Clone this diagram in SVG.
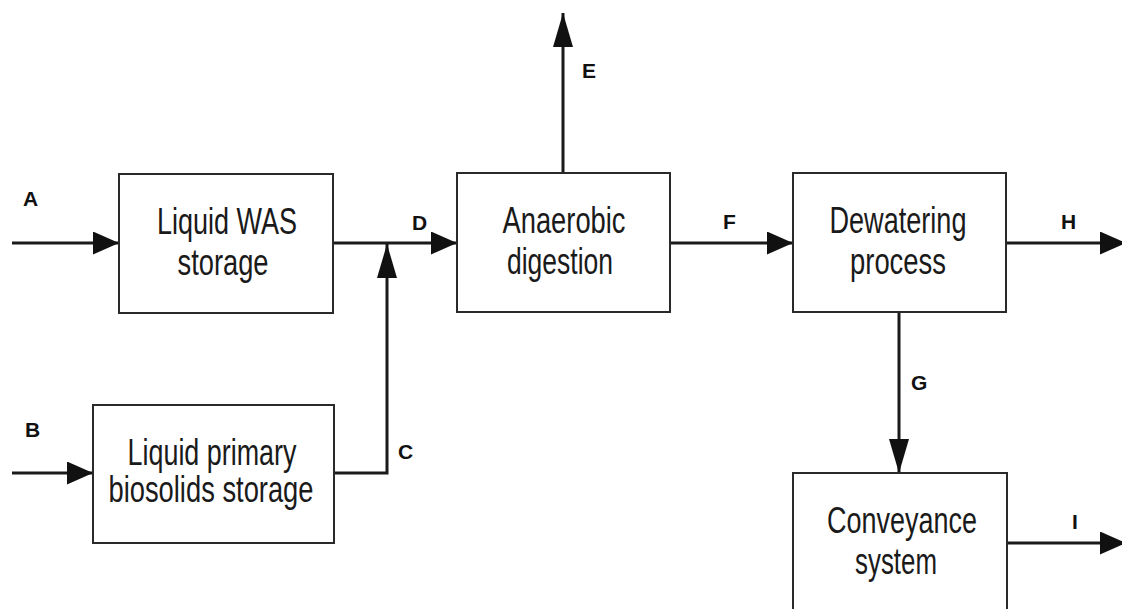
<svg xmlns="http://www.w3.org/2000/svg" width="1122" height="609" viewBox="0 0 1122 609">
<style>
.box{fill:#ffffff;stroke:#2a2a2a;stroke-width:2}
.nt{font-family:"Liberation Sans",Arial,sans-serif;font-size:36px;fill:#1a1a1a;text-anchor:middle}
.lb{font-family:"Liberation Sans",Arial,sans-serif;font-size:21px;font-weight:bold;fill:#111}
.ln{fill:none;stroke:#1a1a1a;stroke-width:3}
.lh{marker-end:url(#ah)}
.lv{marker-end:url(#av)}
</style>
<defs>
<marker id="ah" markerUnits="userSpaceOnUse" markerWidth="28" markerHeight="24" refX="26" refY="11.5" orient="auto">
<path d="M0,0 L26,11.5 L0,23 Z" fill="#111"/>
</marker>
<marker id="av" markerUnits="userSpaceOnUse" markerWidth="36" markerHeight="22" refX="34" refY="10" orient="auto">
<path d="M0,0 L34,10 L0,20 Z" fill="#111"/>
</marker>
</defs>
<rect width="1122" height="609" fill="#ffffff"/>
<g id="connectors">
<line class="ln lh" x1="12" y1="243" x2="119" y2="243"/>
<line class="ln lh" x1="333" y1="243" x2="457" y2="243"/>
<line class="ln lh" x1="12" y1="473" x2="93" y2="473"/>
<polyline class="ln lv" points="334,473 387,473 387,244"/>
<line class="ln lv" x1="563" y1="173" x2="563" y2="13"/>
<line class="ln lh" x1="670" y1="243" x2="793" y2="243"/>
<line class="ln lh" x1="1006" y1="243" x2="1126" y2="243"/>
<line class="ln lv" x1="899" y1="312" x2="899" y2="473"/>
<line class="ln lh" x1="1007" y1="543" x2="1126" y2="543"/>
<text class="lb" x="23" y="206">A</text>
<text class="lb" x="25" y="437">B</text>
<text class="lb" x="398" y="459">C</text>
<text class="lb" x="412" y="230">D</text>
<text class="lb" x="582" y="78">E</text>
<text class="lb" x="723" y="229">F</text>
<text class="lb" x="911" y="390">G</text>
<text class="lb" x="1061" y="229">H</text>
<text class="lb" x="1072" y="529">I</text>
</g>
<g id="was">
<rect class="box" x="119" y="174" width="214" height="139"/>
<text class="nt" x="227" y="234" textLength="140" lengthAdjust="spacingAndGlyphs">Liquid WAS</text>
<text class="nt" x="223" y="275" textLength="91" lengthAdjust="spacingAndGlyphs">storage</text>
</g>
<g id="primary">
<rect class="box" x="93" y="405" width="241" height="138"/>
<text class="nt" x="212" y="465" textLength="169" lengthAdjust="spacingAndGlyphs">Liquid primary</text>
<text class="nt" x="211" y="502" textLength="205" lengthAdjust="spacingAndGlyphs">biosolids storage</text>
</g>
<g id="digestion">
<rect class="box" x="457" y="173" width="213" height="139"/>
<text class="nt" x="564" y="233" textLength="123" lengthAdjust="spacingAndGlyphs">Anaerobic</text>
<text class="nt" x="560" y="274" textLength="106" lengthAdjust="spacingAndGlyphs">digestion</text>
</g>
<g id="dewatering">
<rect class="box" x="793" y="173" width="213" height="139"/>
<text class="nt" x="898" y="233" textLength="137" lengthAdjust="spacingAndGlyphs">Dewatering</text>
<text class="nt" x="898" y="274" textLength="96" lengthAdjust="spacingAndGlyphs">process</text>
</g>
<g id="conveyance">
<rect class="box" x="793" y="473" width="214" height="150"/>
<text class="nt" x="902" y="533" textLength="150" lengthAdjust="spacingAndGlyphs">Conveyance</text>
<text class="nt" x="896" y="574" textLength="82" lengthAdjust="spacingAndGlyphs">system</text>
</g>
</svg>
